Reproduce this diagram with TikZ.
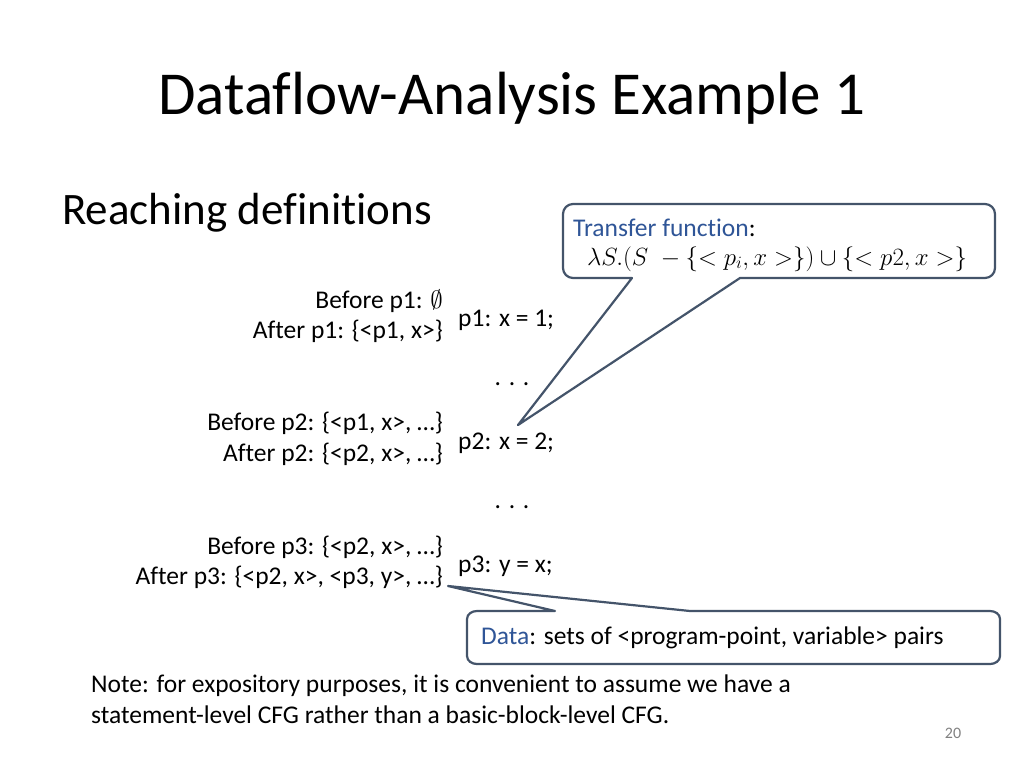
\documentclass[tikz,border=0pt]{standalone}
\usepackage{fontspec}
\setmainfont{Carlito}[Ligatures=NoCommon]
\definecolor{callblue}{RGB}{68,84,106}
\definecolor{linkblue}{RGB}{47,85,151}
\tikzset{
  body/.style={inner sep=0pt,font=\fontsize{25.5}{30}\selectfont},
  lside/.style={body,anchor=east},
  rside/.style={body,anchor=west},
  callout/.style={draw=callblue,line width=2.2pt,fill=white,line join=round}
}
\begin{document}
\begin{tikzpicture}[x=1pt,y=-1pt]
\useasboundingbox (0,0) rectangle (1024,768);
% titles
\node[inner sep=0pt,font=\fontsize{61}{64}\selectfont] (title) at (512,98) {Dataflow-Analysis Example 1};
\node[inner sep=0pt,anchor=west,font=\fontsize{45}{48}\selectfont] (sub) at (62,213) {Reaching definitions};
% statements
\node[rside] (s1) at (458,320) {p1: x = 1;};
\node[body] (d1) at (512,384) {. . .};
\node[rside] (s2) at (458,443) {p2: x = 2;};
\node[body] (d2) at (512,507) {. . .};
\node[rside] (s3) at (458,566) {p3: y = x;};
% facts
\node[lside] (b1) at (443,301) {Before p1: $\emptyset$};
\node[lside] (a1) at (443,331) {After p1: \{<p1, x>\}};
\node[lside] (b2) at (443,423) {Before p2: \{<p1, x>, …\}};
\node[lside] (a2) at (443,454) {After p2: \{<p2, x>, …\}};
\node[lside] (b3) at (443,547) {Before p3: \{<p2, x>, …\}};
\node[lside] (a3) at (443,577) {After p3: \{<p2, x>, <p3, y>, …\}};
% callouts
\coordinate (tip1) at (518,425);
\coordinate (tip2) at (448,586);
\draw[callout] (740,278) -- (985,278) to[out=0,in=-90] (995,268) -- (995,214) to[out=90,in=0] (985,204)
  -- (573,204) to[out=180,in=90] (563,214) -- (563,268) to[out=-90,in=180] (573,278) -- (632,278) -- (tip1) -- cycle;
\draw[callout] (690,611) -- (990,611) to[out=0,in=90] (1000,619) -- (1000,656) to[out=-90,in=0] (990,664)
  -- (477,664) to[out=180,in=-90] (467,656) -- (467,619) to[out=90,in=180] (477,611) -- (555,611) -- (tip2) -- cycle;
\node[rside] (tf) at (573,228) {\textcolor{linkblue}{Transfer function}:};
\node[body,font=\fontsize{25}{30}\selectfont] (lam) at (777,259) {$\lambda S.(S\;-\{<p_i,x>\})\cup\{<p2,x>\}$};
\node[rside] (data) at (481,638) {\textcolor{linkblue}{Data}: sets of <program-point, variable> pairs};
% note
\node[inner sep=0pt,anchor=north west,align=left,font=\fontsize{25.5}{31}\selectfont] (note) at (91,675)
  {Note: for expository purposes, it is convenient to assume we have a\\statement-level CFG rather than a basic-block-level CFG.};
\node[inner sep=0pt,text=gray,font=\fontsize{16}{18}\selectfont] (pg) at (953,733) {20};
\end{tikzpicture}
\end{document}
